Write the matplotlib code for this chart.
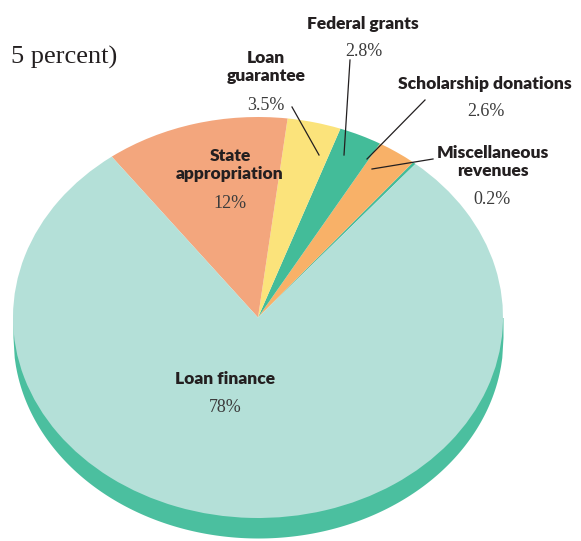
import numpy as np
import matplotlib
matplotlib.use("Agg")
import matplotlib.pyplot as plt

# ---- data ----
categories = ["Miscellaneous\nrevenues", "Scholarship donations", "Federal grants",
              "Loan\nguarantee", "State\nappropriation", "Loan finance"]
values = [0.2, 2.6, 2.8, 3.5, 12, 78]
pct_labels = ["0.2%", "2.6%", "2.8%", "3.5%", "12%", "78%"]
colors = ["#43bc99", "#f8b168", "#43bc99", "#fbe37b", "#f3a67d", "#b4e0d8"]
rim_color = "#4bbf9f"

W, H = 581, 541
fig = plt.figure(figsize=(W / 100, H / 100), dpi=100)

# ellipse geometry in pixels
x0, x1 = 13, 503
ytop, ybot = 117, 518
ry = (ybot - ytop) / 2
ylow = -1.2
bottom_px = ytop + (1 - ylow) * ry
ax = fig.add_axes([x0 / W, 1 - bottom_px / H, (x1 - x0) / W, (bottom_px - ytop) / H])

# rim (thickness)
th = 20 / ry
xs = np.linspace(-1, 1, 400)
ax.fill_between(xs, -np.sqrt(1 - xs ** 2) - th, 0, color=rim_color, lw=0, zorder=1)

wedges, _ = ax.pie(values, colors=colors, startangle=50, counterclock=True,
                   radius=1, center=(0, 0), frame=True,
                   wedgeprops=dict(linewidth=0, antialiased=True))
for w in wedges:
    w.set_zorder(2)
ax.set_xlim(-1, 1)
ax.set_ylim(ylow, 1)
ax.set_aspect("auto")
ax.axis("off")

# ---- text overlay in pixel coordinates ----
tx = fig.add_axes([0, 0, 1, 1], facecolor="none")
tx.set_xlim(0, W)
tx.set_ylim(H, 0)
tx.axis("off")

bold = dict(family="Lato", weight="heavy", fontsize=12.5, color="#231f20",
            ha="center", va="center", linespacing=1.1)
serif = dict(family="Liberation Serif", fontsize=13, color="#3c3c3c",
             ha="center", va="center")

tx.text(117, 57, "5 percent)", family="Liberation Serif", fontsize=19,
        color="#231f20", ha="right", va="center")

# label positions (pixels)
name_pos = {
    "Miscellaneous\nrevenues": (493, 162),
    "Scholarship donations": (485, 84),
    "Federal grants": (363, 24),
    "Loan\nguarantee": (266, 67),
    "State\nappropriation": (230, 165),
    "Loan finance": (225, 379),
}
pct_pos = {
    "Miscellaneous\nrevenues": (492, 199),
    "Scholarship donations": (486, 112),
    "Federal grants": (364, 51),
    "Loan\nguarantee": (266, 106),
    "State\nappropriation": (230, 203),
    "Loan finance": (225, 408),
}
for cat, p in zip(categories, pct_labels):
    tx.text(*name_pos[cat], cat, **bold)
    tx.text(*pct_pos[cat], p, **serif)

leaders = [((292, 107), (319, 155)),
           ((350, 60), (344, 155)),
           ((425, 100), (367, 159)),
           ((433, 159), (372, 169))]
for (a, b) in leaders:
    tx.plot([a[0], b[0]], [a[1], b[1]], color="#231f20", lw=0.9)

fig.savefig("out.png", dpi=100)
